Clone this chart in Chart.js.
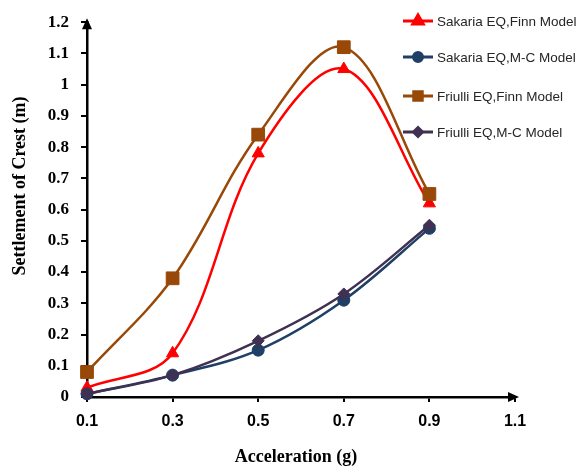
<!DOCTYPE html>
<html>
<head>
<meta charset="utf-8">
<title>Settlement of Crest</title>
<script src="https://cdn.jsdelivr.net/npm/chart.js@4.4.1/dist/chart.umd.min.js"></script>
<style>
  html, body { margin: 0; padding: 0; background: #fff; }
  #wrap { width: 585px; height: 468px; }
</style>
</head>
<body>
<div id="wrap"><canvas id="settlement-chart" width="585" height="468"></canvas></div>
<script>
// acceleration steps (g)
const accel = [0.1, 0.3, 0.5, 0.7, 0.9];

// settlement of crest (m)
const sakariaFinn = [0.03, 0.14, 0.78, 1.05, 0.62];
const sakariaMC = [0.01, 0.07, 0.15, 0.31, 0.54];
const friulliFinn = [0.08, 0.38, 0.84, 1.12, 0.65];
const friulliMC = [0.01, 0.07, 0.18, 0.33, 0.55];

const xTickLabels = ["0.1", "0.3", "0.5", "0.7", "0.9", "1.1"];
const yTickLabels = ["0", "0.1", "0.2", "0.3", "0.4", "0.5", "0.6", "0.7", "0.8", "0.9", "1", "1.1", "1.2"];

const serif = "'Liberation Serif', 'Times New Roman', serif";

const toPoints = (vals) => vals.map((v, i) => ({ x: accel[i], y: v }));

function series(label, vals, color, style, radius, order) {
  return {
    label,
    data: toPoints(vals),
    borderColor: color,
    backgroundColor: color,
    borderWidth: 2.5,
    pointStyle: style,
    pointRadius: radius,
    pointHoverRadius: radius,
    pointBorderWidth: 1,
    tension: 0.35,
    clip: false,
    order,
  };
}

// arrow heads on both axes + axis titles
const axisDecor = {
  id: "axisDecor",
  afterDraw(chart) {
    const { ctx, chartArea } = chart;
    const { left, right, top, bottom } = chartArea;
    ctx.save();
    ctx.fillStyle = "#000";
    ctx.beginPath();
    ctx.moveTo(left, top - 4);
    ctx.lineTo(left - 5, top + 7);
    ctx.lineTo(left + 5, top + 7);
    ctx.closePath();
    ctx.fill();
    ctx.beginPath();
    ctx.moveTo(right + 4, bottom);
    ctx.lineTo(right - 7, bottom - 5);
    ctx.lineTo(right - 7, bottom + 5);
    ctx.closePath();
    ctx.fill();

    ctx.font = "bold 18px " + serif;
    ctx.textAlign = "center";
    ctx.textBaseline = "middle";
    ctx.fillText("Acceleration (g)", 296, 457);
    ctx.translate(20, 186);
    ctx.rotate(-Math.PI / 2);
    ctx.fillText("Settlement of Crest (m)", 0, 0);
    ctx.restore();
  },
};

const insideLegend = {
  id: "insideLegend",
  afterDraw(chart) {
    const { ctx } = chart;
    const rows = [21, 57, 96, 132];
    const sizes = [6, 4.5, 6, 4.5];
    ctx.save();
    chart.data.datasets.forEach((ds, i) => {
      const y = rows[i];
      ctx.strokeStyle = ds.borderColor;
      ctx.lineWidth = 3;
      ctx.beginPath();
      ctx.moveTo(403, y);
      ctx.lineTo(433, y);
      ctx.stroke();
      ctx.fillStyle = ds.backgroundColor;
      Chart.helpers.drawPoint(ctx, { pointStyle: ds.pointStyle, radius: sizes[i], borderWidth: 1 }, 418, y);
      ctx.fill();
      ctx.fillStyle = "#262626";
      ctx.font = "13.5px 'Liberation Sans', Arial, sans-serif";
      ctx.textAlign = "left";
      ctx.textBaseline = "middle";
      ctx.fillText(ds.label, 437, y + 1);
    });
    ctx.restore();
  },
};

new Chart(document.getElementById("settlement-chart"), {
  type: "line",
  data: {
    datasets: [
      series("Sakaria EQ,Finn Model", sakariaFinn, "#ff0000", "triangle", 7, 4),
      series("Sakaria EQ,M-C Model", sakariaMC, "#1f3f66", "circle", 6, 3),
      series("Friulli EQ,Finn Model", friulliFinn, "#984807", "rect", 9, 2),
      series("Friulli EQ,M-C Model", friulliMC, "#403152", "rectRot", 6, 1),
    ],
  },
  options: {
    responsive: false,
    animation: false,
    layout: { padding: { left: 0, right: 70, top: 17, bottom: 0 } },
    plugins: {
      legend: { display: false },
      tooltip: { enabled: false },
    },
    scales: {
      x: {
        type: "linear",
        min: 0.1,
        max: 1.1,
        ticks: {
          stepSize: 0.2,
          padding: 10,
          color: "#000",
          font: { family: "'Liberation Sans', Arial, sans-serif", size: 16, weight: "bold" },
          callback: (v, i) => xTickLabels[i],
        },
        grid: { drawOnChartArea: false, tickLength: 5, color: "#000", lineWidth: 2 },
        border: { color: "#000", width: 2.5 },
        afterFit: (scale) => { scale.height = 71; },
      },
      y: {
        min: 0,
        max: 1.2,
        ticks: {
          stepSize: 0.1,
          padding: 12,
          color: "#000",
          font: { family: serif, size: 17, weight: "bold" },
          callback: (v, i) => yTickLabels[i],
        },
        grid: { drawOnChartArea: false, tickLength: 6, color: "#000", lineWidth: 2 },
        border: { color: "#000", width: 2.5 },
        afterFit: (scale) => { scale.width = 87; },
      },
    },
  },
  plugins: [axisDecor, insideLegend],
});
</script>
</body>
</html>
